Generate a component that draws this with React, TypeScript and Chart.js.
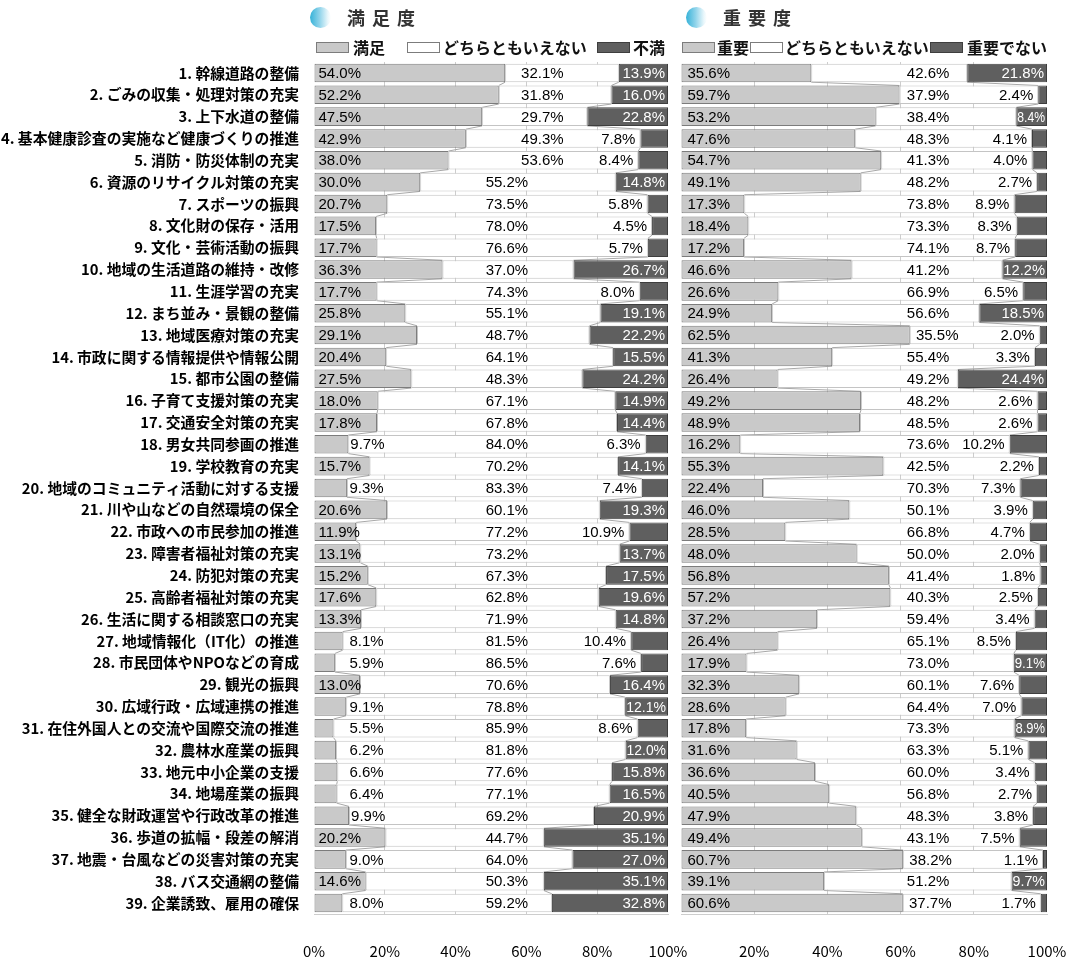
import React, { useEffect, useRef } from 'react';
import { Chart, registerables } from 'chart.js';

Chart.register(...registerables);

// ---------------- data ----------------
const categories = [
  '幹線道路の整備',
  'ごみの収集・処理対策の充実',
  '上下水道の整備',
  '基本健康診査の実施など健康づくりの推進',
  '消防・防災体制の充実',
  '資源のリサイクル対策の充実',
  'スポーツの振興',
  '文化財の保存・活用',
  '文化・芸術活動の振興',
  '地域の生活道路の維持・改修',
  '生涯学習の充実',
  'まち並み・景観の整備',
  '地域医療対策の充実',
  '市政に関する情報提供や情報公開',
  '都市公園の整備',
  '子育て支援対策の充実',
  '交通安全対策の充実',
  '男女共同参画の推進',
  '学校教育の充実',
  '地域のコミュニティ活動に対する支援',
  '川や山などの自然環境の保全',
  '市政への市民参加の推進',
  '障害者福祉対策の充実',
  '防犯対策の充実',
  '高齢者福祉対策の充実',
  '生活に関する相談窓口の充実',
  '地域情報化（IT化）の推進',
  '市民団体やNPOなどの育成',
  '観光の振興',
  '広域行政・広域連携の推進',
  '在住外国人との交流や国際交流の推進',
  '農林水産業の振興',
  '地元中小企業の支援',
  '地場産業の振興',
  '健全な財政運営や行政改革の推進',
  '歩道の拡幅・段差の解消',
  '地震・台風などの災害対策の充実',
  'バス交通網の整備',
  '企業誘致、雇用の確保',
];

const satisfied = [54.0, 52.2, 47.5, 42.9, 38.0, 30.0, 20.7, 17.5, 17.7, 36.3, 17.7, 25.8, 29.1, 20.4, 27.5, 18.0, 17.8, 9.7, 15.7, 9.3, 20.6, 11.9, 13.1, 15.2, 17.6, 13.3, 8.1, 5.9, 13.0, 9.1, 5.5, 6.2, 6.6, 6.4, 9.9, 20.2, 9.0, 14.6, 8.0];
const satisfiedNeutral = [32.1, 31.8, 29.7, 49.3, 53.6, 55.2, 73.5, 78.0, 76.6, 37.0, 74.3, 55.1, 48.7, 64.1, 48.3, 67.1, 67.8, 84.0, 70.2, 83.3, 60.1, 77.2, 73.2, 67.3, 62.8, 71.9, 81.5, 86.5, 70.6, 78.8, 85.9, 81.8, 77.6, 77.1, 69.2, 44.7, 64.0, 50.3, 59.2];
const dissatisfied = [13.9, 16.0, 22.8, 7.8, 8.4, 14.8, 5.8, 4.5, 5.7, 26.7, 8.0, 19.1, 22.2, 15.5, 24.2, 14.9, 14.4, 6.3, 14.1, 7.4, 19.3, 10.9, 13.7, 17.5, 19.6, 14.8, 10.4, 7.6, 16.4, 12.1, 8.6, 12.0, 15.8, 16.5, 20.9, 35.1, 27.0, 35.1, 32.8];

const important = [35.6, 59.7, 53.2, 47.6, 54.7, 49.1, 17.3, 18.4, 17.2, 46.6, 26.6, 24.9, 62.5, 41.3, 26.4, 49.2, 48.9, 16.2, 55.3, 22.4, 46.0, 28.5, 48.0, 56.8, 57.2, 37.2, 26.4, 17.9, 32.3, 28.6, 17.8, 31.6, 36.6, 40.5, 47.9, 49.4, 60.7, 39.1, 60.6];
const importanceNeutral = [42.6, 37.9, 38.4, 48.3, 41.3, 48.2, 73.8, 73.3, 74.1, 41.2, 66.9, 56.6, 35.5, 55.4, 49.2, 48.2, 48.5, 73.6, 42.5, 70.3, 50.1, 66.8, 50.0, 41.4, 40.3, 59.4, 65.1, 73.0, 60.1, 64.4, 73.3, 63.3, 60.0, 56.8, 48.3, 43.1, 38.2, 51.2, 37.7];
const notImportant = [21.8, 2.4, 8.4, 4.1, 4.0, 2.7, 8.9, 8.3, 8.7, 12.2, 6.5, 18.5, 2.0, 3.3, 24.4, 2.6, 2.6, 10.2, 2.2, 7.3, 3.9, 4.7, 2.0, 1.8, 2.5, 3.4, 8.5, 9.1, 7.6, 7.0, 8.9, 5.1, 3.4, 2.7, 3.8, 7.5, 1.1, 9.7, 1.7];

const satisfactionTitle = '満足度';
const importanceTitle = '重要度';
const satisfactionSeries = ['満足', 'どちらともいえない', '不満'];
const importanceSeries = ['重要', 'どちらともいえない', '重要でない'];
const xTicks = [0, 20, 40, 60, 80, 100];

// rows (1-based) whose small "not important" label sits inside the dark bar
const importanceInsideRows = [3, 28, 31, 38];

// ---------------- styles ----------------
const FILLS = ['#c9c9c9', '#ffffff', '#5f5f5f'];
const BORDERS = ['#7c7c7c', '#c4c4c4', '#3e3e3e'];
const CJK = '"Noto Sans CJK JP", "Noto Sans", sans-serif';
const LATIN = '"Liberation Sans", Arial, sans-serif';

type PanelCfg = {
  series: string[];
  values: number[][];
  showCategories: boolean;
  yWidth: number;
  padRight: number;
  hideZeroTick: boolean;
  firstPad: number;
  middleCenter: (first: number) => number;
  lastInside: (v: number, i: number) => boolean;
};

const labelPlugin = (cfg: PanelCfg) => ({
  id: 'segLabels',
  afterDatasetsDraw(chart: any) {
    const ctx = chart.ctx;
    const xs = chart.scales.x;
    const n = chart.data.labels.length;
    ctx.save();
    ctx.font = `15px ${LATIN}`;
    ctx.textBaseline = 'middle';
    for (let i = 0; i < n; i++) {
      const e0 = chart.getDatasetMeta(0).data[i];
      const e2 = chart.getDatasetMeta(2).data[i];
      const v0 = cfg.values[0][i];
      const v1 = cfg.values[1][i];
      const v2 = cfg.values[2][i];
      const y = e0.y + 1;
      // first segment
      ctx.fillStyle = '#000';
      ctx.textAlign = 'left';
      const t0 = v0.toFixed(1) + '%';
      if (v0 >= 10) ctx.fillText(t0, e0.base + cfg.firstPad, y);
      else ctx.fillText(t0, Math.max(e0.x + 2, xs.getPixelForValue(10)), y);
      // middle segment
      ctx.textAlign = 'center';
      ctx.fillText(v1.toFixed(1) + '%', xs.getPixelForValue(cfg.middleCenter(v0)), y);
      // last segment
      const t2 = v2.toFixed(1) + '%';
      ctx.textAlign = 'right';
      if (cfg.lastInside(v2, i)) {
        ctx.fillStyle = '#fff';
        const room = e2.x - e2.base - 3;
        const w = ctx.measureText(t2).width;
        if (w > room) ctx.fillText(t2, e2.x - 2, y, room);
        else ctx.fillText(t2, e2.x - 3, y);
      } else {
        ctx.fillStyle = '#000';
        ctx.fillText(t2, e2.base - 5, y);
      }
    }
    ctx.restore();
  },
});

const seriesLinePlugin = {
  id: 'seriesLines',
  beforeDatasetsDraw(chart: any) {
    const ctx = chart.ctx;
    const n = chart.data.labels.length;
    ctx.save();
    ctx.strokeStyle = '#a8a8a8';
    ctx.lineWidth = 1;
    for (const d of [0, 1]) {
      const meta = chart.getDatasetMeta(d);
      ctx.beginPath();
      for (let i = 0; i < n - 1; i++) {
        const a = meta.data[i];
        const b = meta.data[i + 1];
        ctx.moveTo(a.x, a.y + a.height / 2);
        ctx.lineTo(b.x, b.y - b.height / 2);
      }
      ctx.stroke();
    }
    ctx.restore();
  },
};

function makeChart(canvas: HTMLCanvasElement, cfg: PanelCfg) {
  return new Chart(canvas, {
    type: 'bar',
    data: {
      labels: categories.map((c, i) => `${i + 1}. ${c}`),
      datasets: cfg.series.map((name, d) => ({
        label: name,
        data: cfg.values[d],
        backgroundColor: FILLS[d],
        borderColor: BORDERS[d],
        borderWidth: 1,
        borderSkipped: false,
        barPercentage: 0.85,
        categoryPercentage: 1.0,
      })),
    },
    options: {
      responsive: false,
      animation: false,
      indexAxis: 'y',
      events: [],
      layout: { padding: { top: 62, right: cfg.padRight, bottom: 0, left: 0 } },
      plugins: { legend: { display: false }, tooltip: { enabled: false } },
      scales: {
        x: {
          stacked: true,
          min: 0,
          max: 100,
          position: 'bottom',
          afterBuildTicks: (s: any) => {
            s.ticks = xTicks.map((v) => ({ value: v }));
          },
          afterFit: (s: any) => {
            s.height = 54;
          },
          ticks: {
            autoSkip: false,
            maxRotation: 0,
            padding: 0,
            color: '#000',
            font: { family: CJK, size: 15 },
            callback: (v: any) => (cfg.hideZeroTick && Number(v) === 0 ? '' : `${v}%`),
          },
          grid: {
            drawTicks: true,
            tickLength: 28,
            tickColor: 'rgba(0,0,0,0)',
            lineWidth: 1,
            color: (c: any) =>
              c.tick && (c.tick.value === 0 || c.tick.value === 100) ? 'rgba(0,0,0,0)' : '#cdcdcd',
          },
          border: { display: true, color: '#cdcdcd' },
        },
        y: {
          stacked: true,
          afterFit: (s: any) => {
            s.width = cfg.yWidth;
          },
          ticks: {
            display: cfg.showCategories,
            autoSkip: false,
            padding: 7,
            color: '#000',
            font: { family: CJK, size: 14.8, weight: 'bold' },
          },
          grid: { display: false },
          border: { display: false },
        },
      },
    } as any,
    plugins: [seriesLinePlugin, labelPlugin(cfg)],
  });
}

const leftCfg: PanelCfg = {
  series: satisfactionSeries,
  values: [satisfied, satisfiedNeutral, dissatisfied],
  showCategories: true,
  yWidth: 314,
  padRight: 22,
  hideZeroTick: false,
  firstPad: 4,
  middleCenter: (first) => (first >= 37.5 ? 64.5 : 54.5),
  lastInside: (v) => v >= 11,
};

const rightCfg: PanelCfg = {
  series: importanceSeries,
  values: [important, importanceNeutral, notImportant],
  showCategories: false,
  yWidth: 20,
  padRight: 20,
  hideZeroTick: true,
  firstPad: 6,
  middleCenter: (first) => Math.max(67.5, first + 7.5),
  lastInside: (v, i) => v >= 11 || importanceInsideRows.includes(i + 1),
};

function Title({ left, text }: { left: number; text: string }) {
  return (
    <>
      <div
        style={{
          position: 'absolute',
          left,
          top: 7,
          width: 21,
          height: 21,
          borderRadius: '50%',
          background: 'linear-gradient(90deg, #36b2d8 0%, #8fd3ea 45%, #e9f7fb 85%, #ffffff 100%)',
        }}
      />
      <div
        style={{
          position: 'absolute',
          left: left + 37,
          top: 4,
          fontFamily: CJK,
          fontSize: 18,
          fontWeight: 700,
          letterSpacing: 7,
          lineHeight: '26px',
          color: '#333',
          whiteSpace: 'nowrap',
        }}
      >
        {text}
      </div>
    </>
  );
}

function Legend({ names, boxes, texts }: { names: string[]; boxes: number[]; texts: number[] }) {
  return (
    <>
      {names.map((name, d) => (
        <React.Fragment key={d}>
          <div
            style={{
              position: 'absolute',
              left: boxes[d],
              top: 42,
              width: 33,
              height: 11,
              boxSizing: 'border-box',
              background: FILLS[d],
              border: `1px solid ${d === 2 ? '#3e3e3e' : '#7c7c7c'}`,
            }}
          />
          <div
            style={{
              position: 'absolute',
              left: texts[d],
              top: 37,
              fontFamily: CJK,
              fontSize: 16,
              fontWeight: 700,
              lineHeight: '20px',
              color: '#111',
              whiteSpace: 'nowrap',
            }}
          >
            {name}
          </div>
        </React.Fragment>
      ))}
    </>
  );
}

export default function App() {
  const leftRef = useRef<HTMLCanvasElement | null>(null);
  const rightRef = useRef<HTMLCanvasElement | null>(null);

  useEffect(() => {
    const c1 = makeChart(leftRef.current!, leftCfg);
    const c2 = makeChart(rightRef.current!, rightCfg);
    return () => {
      c1.destroy();
      c2.destroy();
    };
  }, []);

  return (
    <div
      style={{
        position: 'absolute',
        left: 0,
        top: 0,
        width: 1067,
        height: 968,
        overflow: 'hidden',
        background: '#fff',
      }}
    >
      <canvas
        ref={leftRef}
        width={690}
        height={968}
        style={{ position: 'absolute', left: 0, top: 0, width: 690, height: 968 }}
      />
      <canvas
        ref={rightRef}
        width={406}
        height={968}
        style={{ position: 'absolute', left: 661, top: 0, width: 406, height: 968 }}
      />
      <Title left={310} text={satisfactionTitle} />
      <Title left={686} text={importanceTitle} />
      <Legend names={satisfactionSeries} boxes={[316, 407, 597]} texts={[353, 443, 633]} />
      <Legend names={importanceSeries} boxes={[682, 750, 930]} texts={[717, 785, 967]} />
    </div>
  );
}
